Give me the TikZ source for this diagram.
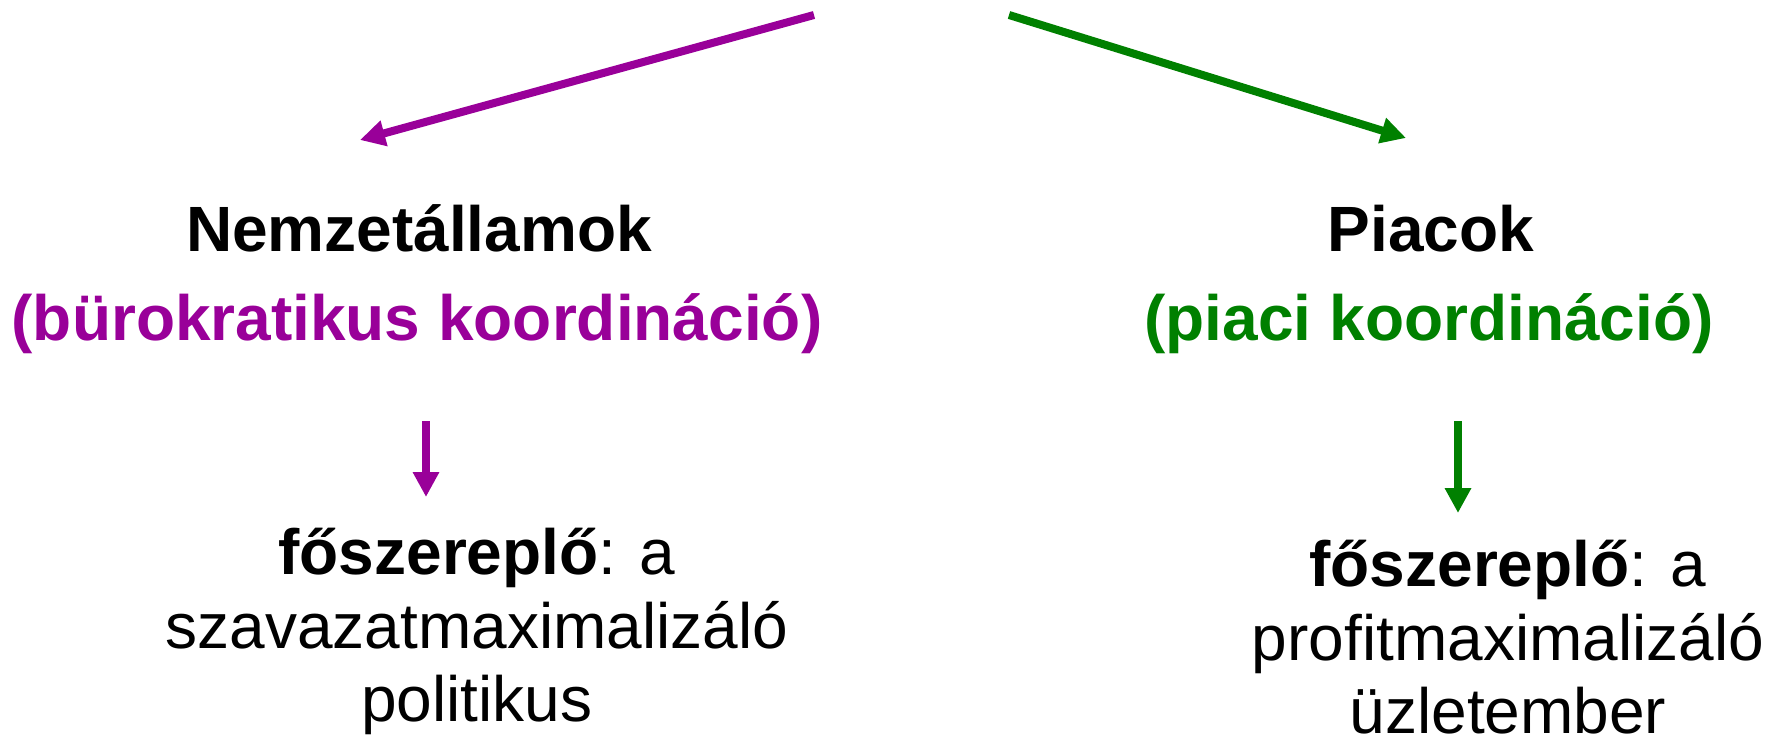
\documentclass[tikz,border=0pt]{standalone}
\usepackage{fontspec}
\setmainfont{Liberation Sans}
\usetikzlibrary{arrows.meta}
\definecolor{bpurple}{RGB}{153,0,153}
\definecolor{mgreen}{RGB}{0,128,0}
\tikzset{
  txt/.style={anchor=base, inner sep=0pt, font=\fontsize{64}{74}\selectfont},
  ttl/.style={txt, font=\fontsize{64}{74}\selectfont\bfseries},
  conn/.style={line width=8pt, -{Triangle[length=25pt,width=25pt]}},
}
\begin{document}
\begin{tikzpicture}[x=1pt,y=-1pt]
\useasboundingbox (0,0) rectangle (1781,743);
% left column
\node[ttl] (lt) at (419,252) {Nemzetállamok};
\node[ttl, text=bpurple] (ls) at (417,341) {(bürokratikus koordináció)};
\node[txt] (lb1) at (477,574) {\textbf{főszereplő}: a};
\node[txt] (lb2) at (477,648) {szavazatmaximalizáló};
\node[txt] (lb3) at (477,721) {politikus};
% right column
\node[ttl] (rt) at (1431,252) {Piacok};
\node[ttl, text=mgreen] (rs) at (1429,341) {(piaci koordináció)};
\node[txt] (rb1) at (1508,586) {\textbf{főszereplő}: a};
\node[txt] (rb2) at (1508,660) {profitmaximalizáló};
\node[txt] (rb3) at (1508,733) {üzletember};
% connector ends
\coordinate (ps) at (814,15);
\coordinate (pe) at (360,140);
\coordinate (gs) at (1009,15);
\coordinate (ge) at (1406,138);
\coordinate (pds) at (426,421);
\coordinate (pde) at (426,497);
\coordinate (gds) at (1458,421);
\coordinate (gde) at (1458,513);
\draw[conn, bpurple] (ps) -- (pe);
\draw[conn, mgreen] (gs) -- (ge);
\draw[conn, bpurple] (pds) -- (pde);
\draw[conn, mgreen] (gds) -- (gde);
\end{tikzpicture}
\end{document}
